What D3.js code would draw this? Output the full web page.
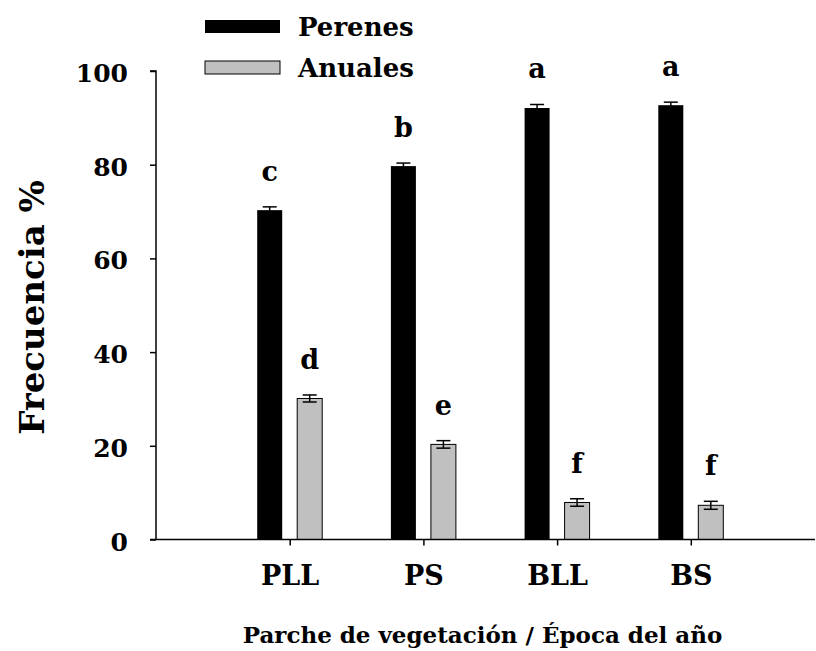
<!DOCTYPE html>
<html>
<head>
<meta charset="utf-8">
<script src="https://cdn.jsdelivr.net/npm/d3@7/dist/d3.min.js"></script>
<style>
  html, body { margin: 0; padding: 0; background: #fff; }
  svg { display: block; }
  text { font-family: "DejaVu Serif", "Liberation Serif", serif; font-weight: bold; fill: #000; }
</style>
</head>
<body>
<div id="chart"></div>
<script>
// ---- data ----
const categories = ["PLL", "PS", "BLL", "BS"];
const seriesNames = ["Perenes", "Anuales"];
const perenes = [70.3, 79.7, 92.1, 92.7];
const anuales = [30.1, 20.3, 7.9, 7.3];
const perenesErr = [0.7, 0.65, 0.75, 0.65];
const anualesErr = [0.75, 0.8, 0.8, 0.85];
const perenesLetters = ["c", "b", "a", "a"];
const anualesLetters = ["d", "e", "f", "f"];
const yTicks = [0, 20, 40, 60, 80, 100];

const W = 816, H = 651;
const colors = { Perenes: "#000000", Anuales: "#c0c0c0" };

const svg = d3.select("#chart").append("svg").attr("width", W).attr("height", H);

// scales
const x = d3.scaleLinear().domain([0, 5]).range([156, 824.5]);
const inner = d3.scaleBand().domain(seriesNames).range([-32.5, 32.5]).paddingInner(0.375).paddingOuter(0);
const y = d3.scaleLinear().domain([0, 100]).range([539.5, 71]);

const rows = [];
categories.forEach((c, i) => {
  rows.push({ cat: c, idx: i + 1, series: "Perenes", v: perenes[i], e: perenesErr[i], letter: perenesLetters[i] });
  rows.push({ cat: c, idx: i + 1, series: "Anuales", v: anuales[i], e: anualesErr[i], letter: anualesLetters[i] });
});

// bars
svg.append("g").selectAll("rect").data(rows).join("rect")
  .attr("x", d => x(d.idx) + inner(d.series))
  .attr("y", d => y(d.v))
  .attr("width", inner.bandwidth())
  .attr("height", d => y(0) - y(d.v))
  .attr("fill", d => colors[d.series])
  .attr("stroke", d => d.series === "Anuales" ? "#000" : "none")
  .attr("stroke-width", 1);

// error bars
const eb = svg.append("g").attr("stroke", "#000").attr("stroke-width", 1.5);
rows.forEach(d => {
  const cx = x(d.idx) + inner(d.series) + inner.bandwidth() / 2;
  eb.append("line").attr("x1", cx).attr("x2", cx).attr("y1", y(d.v + d.e)).attr("y2", y(d.v - d.e));
  eb.append("line").attr("x1", cx - 7).attr("x2", cx + 7).attr("y1", y(d.v + d.e)).attr("y2", y(d.v + d.e));
  eb.append("line").attr("x1", cx - 7).attr("x2", cx + 7).attr("y1", y(d.v - d.e)).attr("y2", y(d.v - d.e));
});

// significance letters
svg.append("g").selectAll("text").data(rows).join("text")
  .attr("x", d => x(d.idx) + inner(d.series) + inner.bandwidth() / 2)
  .attr("y", d => y(d.v + d.e) - 26)
  .attr("text-anchor", "middle")
  .style("font-size", "27px")
  .text(d => d.letter);

// y axis
const yAxis = svg.append("g").attr("transform", "translate(156,0)")
  .call(d3.axisLeft(y).tickValues(yTicks).tickSize(6).tickPadding(22).tickFormat(d3.format("d")));
yAxis.select(".domain").attr("stroke-width", 1.5).attr("d", `M-6,${y(100)}H0V${y(0)}`);
yAxis.selectAll(".tick line").attr("stroke-width", 1.5);
yAxis.selectAll(".tick text").style("font-size", "25px").style("font-family", "DejaVu Serif").style("font-weight", "bold").attr("dy", "0.42em");

// x axis
const xAxis = svg.append("g").attr("transform", `translate(0,${y(0)})`)
  .call(d3.axisBottom(x).tickValues([1, 2, 3, 4]).tickSize(6).tickPadding(20).tickFormat(d => categories[d - 1]));
xAxis.select(".domain").remove();
xAxis.append("line").attr("x1", 150).attr("x2", 815).attr("stroke", "#000").attr("stroke-width", 1.5);
xAxis.selectAll(".tick line").attr("stroke-width", 1.5);
xAxis.selectAll(".tick text").style("font-size", "27px").style("font-family", "DejaVu Serif").style("font-weight", "bold").attr("dy", "0.71em");

// axis titles
svg.append("text")
  .attr("transform", "translate(44,307.5) rotate(-90)")
  .attr("text-anchor", "middle")
  .style("font-size", "34px")
  .text("Frecuencia %");

svg.append("text")
  .attr("x", 482.5).attr("y", 643)
  .attr("text-anchor", "middle")
  .style("font-size", "23px")
  .text("Parche de vegetación / Época del año");

// legend
const leg = svg.append("g");
seriesNames.forEach((s, i) => {
  leg.append("rect")
    .attr("x", 205).attr("y", 20 + i * 41)
    .attr("width", 75).attr("height", 13)
    .attr("fill", colors[s])
    .attr("stroke", s === "Anuales" ? "#000" : "none");
  leg.append("text")
    .attr("x", 298).attr("y", 36 + i * 41)
    .style("font-size", "26px")
    .text(s);
});
</script>
</body>
</html>
